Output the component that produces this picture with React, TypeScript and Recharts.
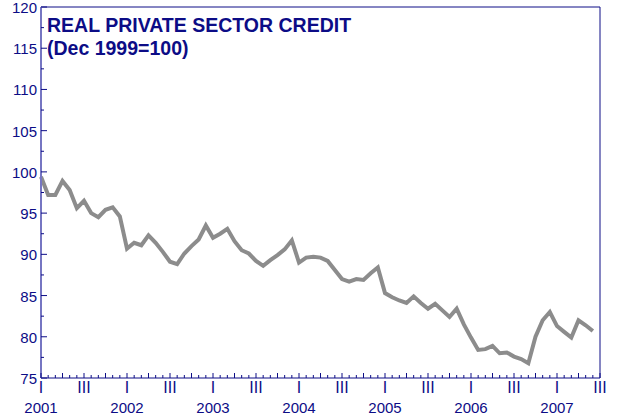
import React from 'react';
import { LineChart, Line, XAxis, YAxis, ReferenceLine } from 'recharts';

// monthly index, Jan 2001 = 0
const values = [
  99.4, 97.2, 97.2, 98.9, 97.8, 95.6, 96.5, 95.0, 94.5, 95.4, 95.7, 94.6,
  90.7, 91.4, 91.1, 92.3, 91.4, 90.3, 89.1, 88.8, 90.1, 91.0, 91.8, 93.5,
  92.0, 92.5, 93.1, 91.6, 90.5, 90.1, 89.2, 88.6, 89.3, 89.9, 90.6, 91.7,
  89.0, 89.6, 89.7, 89.6, 89.2, 88.1, 87.0, 86.7, 87.0, 86.9, 87.7, 88.4,
  85.3, 84.8, 84.4, 84.1, 84.9, 84.1, 83.4, 84.0, 83.2, 82.4, 83.4, 81.5,
  79.9, 78.4, 78.5, 78.9, 78.0, 78.1, 77.6, 77.3, 76.8, 80.0, 82.0, 83.0,
  81.3, 80.6, 79.9, 82.0, 81.4, 80.7,
];
const years = ['2001', '2002', '2003', '2004', '2005', '2006', '2007'];
const yTicks = [75, 77.5, 80, 82.5, 85, 87.5, 90, 92.5, 95, 97.5, 100, 102.5, 105, 107.5, 110, 112.5, 115, 117.5, 120];
const monthTicks = Array.from({ length: 79 }, (_, i) => i);

const data = values.map((v, i) => ({ m: i, v }));

const NAVY = '#0c0c86';
const FONT = '"Liberation Sans", Arial, sans-serif';

const LeftTick = (props: any) => {
  const { x, y, payload } = props;
  const major = payload.value % 5 === 0;
  return (
    <g>
      <line x1={x} x2={x + (major ? 6 : 3)} y1={y} y2={y} stroke={NAVY} strokeWidth={1} />
      {major && (
        <text x={x - 4} y={y + 6} textAnchor="end" fontSize={15} fill={NAVY} fontFamily={FONT}>
          {payload.value}
        </text>
      )}
    </g>
  );
};

const RightTick = (props: any) => {
  const { x, y, payload } = props;
  const major = payload.value % 5 === 0;
  return (
    <g>
      <line x1={x} x2={x - (major ? 6 : 3)} y1={y} y2={y} stroke={NAVY} strokeWidth={1} />
      {major && (
        <text x={x + 3} y={y + 6} textAnchor="start" fontSize={15} fill={NAVY} fontFamily={FONT}>
          {payload.value}
        </text>
      )}
    </g>
  );
};

const MonthTick = (props: any) => {
  const { x, y, payload } = props;
  const m = payload.value;
  const q = m % 3 === 0;
  let label = '';
  if (m % 12 === 0) label = 'I';
  if (m % 12 === 6) label = 'III';
  const yr = m % 12 === 0 ? years[m / 12] : undefined;
  return (
    <g>
      <line x1={x} x2={x} y1={y} y2={y - (q ? 5 : 3)} stroke={NAVY} strokeWidth={1} />
      {label && (
        <text x={Math.round(x)} y={y + 15} textAnchor="middle" fontSize={16} fill={NAVY} fontFamily={FONT}>
          {label}
        </text>
      )}
      {yr && (
        <text x={x} y={y + 35} textAnchor="middle" fontSize={15} fill={NAVY} fontFamily={FONT}>
          {yr}
        </text>
      )}
    </g>
  );
};

export default function App() {
  return (
    <div style={{ position: 'absolute', left: 0, top: 0, width: 634, height: 416, background: '#fff' }}>
      <LineChart width={634} height={416} data={data} margin={{ top: 7, right: 0, left: 0, bottom: 0 }}>
        <XAxis
          dataKey="m"
          type="number"
          domain={[0, 78]}
          ticks={monthTicks}
          interval={0}
          height={38}
          tickSize={0}
          tickMargin={0}
          tickLine={false}
          axisLine={{ stroke: NAVY }}
          tick={<MonthTick />}
        />
        <YAxis
          yAxisId="left"
          domain={[75, 120]}
          ticks={yTicks}
          interval={0}
          width={41}
          tickSize={0}
          tickMargin={0}
          tickLine={false}
          axisLine={{ stroke: '#7676c2', strokeWidth: 2 }}
          tick={<LeftTick />}
        />
        <YAxis
          yAxisId="right"
          orientation="right"
          domain={[75, 120]}
          ticks={yTicks}
          interval={0}
          width={34}
          tickSize={0}
          tickMargin={0}
          tickLine={false}
          axisLine={{ stroke: NAVY }}
          tick={<RightTick />}
        />
        <ReferenceLine yAxisId="left" y={120} stroke={NAVY} />
        <Line
          yAxisId="left"
          type="linear"
          dataKey="v"
          stroke="#8c8c8c"
          strokeWidth={4}
          dot={false}
          isAnimationActive={false}
        />
      </LineChart>
      <div
        style={{
          position: 'absolute',
          left: 47,
          top: 14,
          fontFamily: FONT,
          fontWeight: 'bold',
          fontSize: 19.5,
          lineHeight: '23px',
          color: NAVY,
        }}
      >
        <div>REAL PRIVATE SECTOR CREDIT</div>
        <div>(Dec 1999=100)</div>
      </div>
    </div>
  );
}
